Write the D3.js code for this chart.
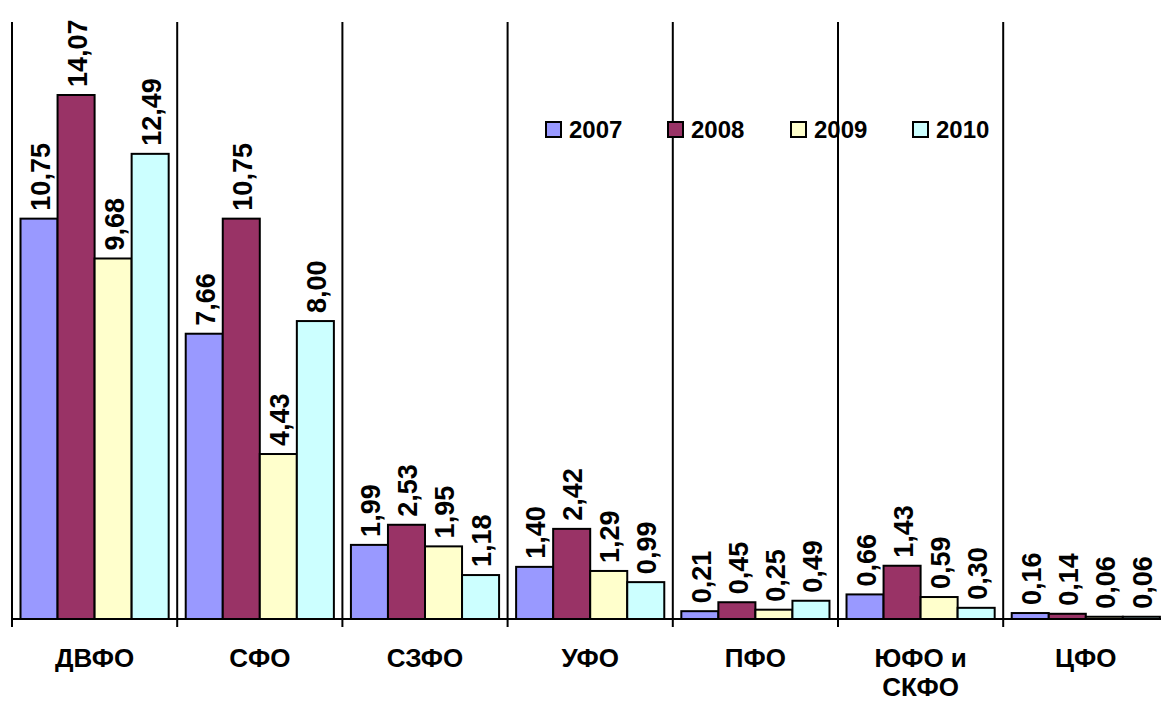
<!DOCTYPE html>
<html>
<head>
<meta charset="utf-8">
<script src="https://cdn.jsdelivr.net/npm/d3@7"></script>
<style>
  body { margin: 0; background: #fff; }
  text { font-family: Arial, "Liberation Sans", sans-serif; font-weight: bold; fill: #000; }
</style>
</head>
<body>
<div id="chart"></div>
<script>
const width = 1161;
const height = 702;

const regions = ['ДВФО', 'СФО', 'СЗФО', 'УФО', 'ПФО', 'ЮФО и\nСКФО', 'ЦФО'];
const years = ['2007', '2008', '2009', '2010'];
const colors = ['#9999ff', '#993366', '#ffffcc', '#ccffff'];

const v2007 = [10.75, 7.66, 1.99, 1.40, 0.21, 0.66, 0.16];
const v2008 = [14.07, 10.75, 2.53, 2.42, 0.45, 1.43, 0.14];
const v2009 = [9.68, 4.43, 1.95, 1.29, 0.25, 0.59, 0.06];
const v2010 = [12.49, 8.00, 1.18, 0.99, 0.49, 0.30, 0.06];
const series = [v2007, v2008, v2009, v2010];

const svg = d3
  .select('#chart')
  .append('svg')
  .attr('width', width)
  .attr('height', height);

const x = d3.scaleBand().domain(regions).range([12, 12 + 7 * 165.2]);
const x1 = d3.scaleBand().domain(years).range([0, x.bandwidth()]).paddingOuter(0.23);
const y = d3.scaleLinear().domain([0, 14.07]).range([619, 95]);

// vertical separators
svg
  .selectAll('.sep')
  .data(regions)
  .enter()
  .append('line')
  .attr('x1', (d) => x(d))
  .attr('x2', (d) => x(d))
  .attr('y1', 22)
  .attr('y2', 627)
  .attr('stroke', '#000')
  .attr('stroke-width', 2);

// bars
const groups = svg
  .selectAll('.grp')
  .data(regions)
  .enter()
  .append('g')
  .attr('transform', (d) => `translate(${x(d)},0)`);

groups.each(function (r, i) {
  const g = d3.select(this);
  const rows = years.map((yr, k) => ({ yr, k, v: series[k][i] }));
  g.selectAll('rect')
    .data(rows)
    .enter()
    .append('rect')
    .attr('x', (d) => x1(d.yr))
    .attr('width', x1.bandwidth())
    .attr('y', (d) => y(d.v))
    .attr('height', (d) => y(0) - y(d.v))
    .attr('fill', (d) => colors[d.k])
    .attr('stroke', '#000')
    .attr('stroke-width', 2);

  g.selectAll('.lbl')
    .data(rows)
    .enter()
    .append('text')
    .attr('transform', (d) => `translate(${x1(d.yr) + x1.bandwidth() / 2 + 1},${y(d.v) - 8}) rotate(-90)`)
    .attr('dy', '0.36em')
    .style('font-size', '27px')
    .text((d) => d.v.toFixed(2).replace('.', ','));
});

// axis line
svg
  .append('line')
  .attr('x1', 12)
  .attr('x2', width)
  .attr('y1', 619)
  .attr('y2', 619)
  .attr('stroke', '#000')
  .attr('stroke-width', 2);

// category labels
svg
  .selectAll('.cat')
  .data(regions)
  .enter()
  .append('text')
  .attr('text-anchor', 'middle')
  .style('font-size', '26px')
  .attr('x', (d) => x(d) + x.bandwidth() / 2)
  .attr('y', 667)
  .each(function (d) {
    const parts = d.split('\n');
    d3.select(this)
      .selectAll('tspan')
      .data(parts)
      .enter()
      .append('tspan')
      .attr('x', x(d) + x.bandwidth() / 2)
      .attr('dy', (p, j) => (j === 0 ? 0 : 29))
      .text((p) => p);
  });

// legend
const legendX = [546, 668, 791, 913];
const legend = svg
  .selectAll('.leg')
  .data(years)
  .enter()
  .append('g')
  .attr('transform', (d, i) => `translate(${legendX[i]},122)`);

legend
  .append('rect')
  .attr('width', 15)
  .attr('height', 15)
  .attr('fill', (d, i) => colors[i])
  .attr('stroke', '#000')
  .attr('stroke-width', 2);

legend
  .append('text')
  .attr('x', 23)
  .attr('y', 16)
  .style('font-size', '24px')
  .text((d) => d);
</script>
</body>
</html>
